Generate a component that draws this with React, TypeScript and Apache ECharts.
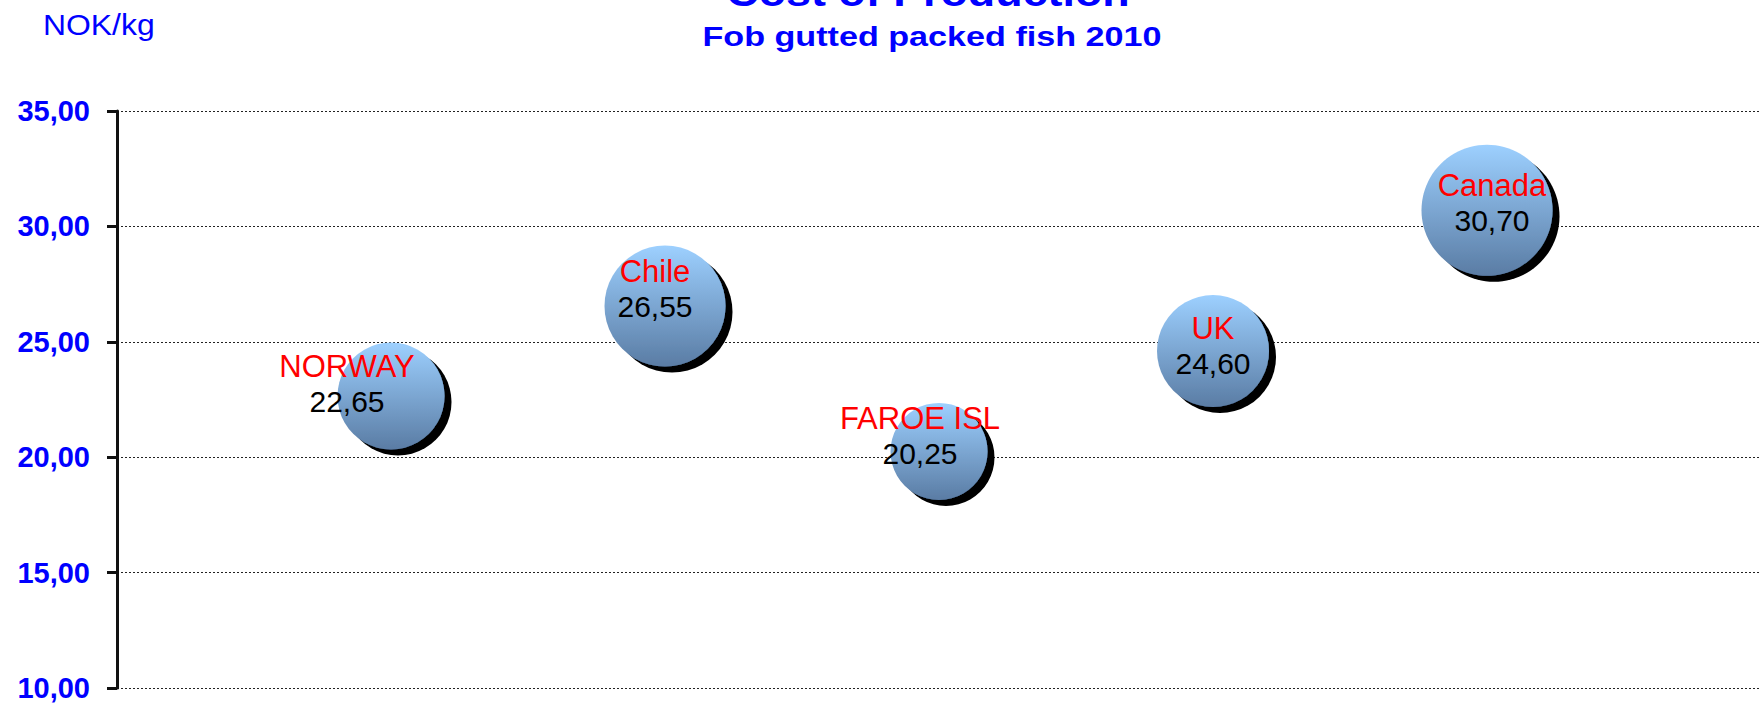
import React, { useEffect, useRef } from "react";
import * as echarts from "echarts";

// ---- data ----
const categories: string[] = ["NORWAY", "Chile", "FAROE ISL", "UK", "Canada"];
const costs: number[] = [22.65, 26.55, 20.25, 24.6, 30.7];
const xPositions: number[] = [1, 2, 3, 4, 5];
const bubbleDiameters: number[] = [107, 121, 97, 112, 131];
const yMin = 10;
const yMax = 35;
const yStep = 5;

const titleText = "Cost of Production";
const subtitleText = "Fob gutted packed fish 2010";
const unitText = "NOK/kg";

// ---- layout (label nudges, px) ----
const labelNudges: number[][] = [
  [-44, 5],
  [-10, 0],
  [-19, 2],
  [0, 12],
  [5, 10],
];

const FONT = '"Liberation Sans", Arial, sans-serif';
const fmt = (v: number) => v.toFixed(2).replace(".", ",");

export default function App() {
  const ref = useRef<HTMLDivElement>(null);
  useEffect(() => {
    document.body.style.margin = "0";
    if (!ref.current) return;
    const chart = echarts.init(ref.current, undefined, { renderer: "svg" });
    const data = categories.map((name, i) => ({
      name,
      value: [xPositions[i], costs[i]],
      label: {
        offset: [labelNudges[i][0], labelNudges[i][1] - 17.5],
      },
    }));
    chart.setOption({
      animation: false,
      backgroundColor: "#ffffff",
      grid: { left: 117, top: 111, right: 0, bottom: 16, containLabel: false },
      xAxis: { type: "value", min: 0, max: 6, show: false },
      yAxis: {
        type: "value",
        min: yMin,
        max: yMax,
        interval: yStep,
        axisLine: { show: true, lineStyle: { color: "#111", width: 3 } },
        axisTick: { show: true, length: 10, lineStyle: { color: "#111", width: 3 } },
        axisLabel: {
          margin: 27,
          color: "#0000ff",
          fontWeight: "bold",
          fontSize: 29,
          fontFamily: FONT,
          formatter: (v: number) => fmt(v),
        },
        splitLine: { show: true, lineStyle: { color: "#222", width: 1.2, type: [2, 2] } },
      },
      graphic: [
        {
          type: "text",
          x: 928,
          y: 12,
          scaleX: 1.15,
          style: {
            text: titleText,
            align: "center",
            verticalAlign: "bottom",
            fill: "#0000ff",
            font: `bold 39px ${FONT}`,
          },
        },
        {
          type: "text",
          x: 932,
          y: 37,
          scaleX: 1.22,
          style: {
            text: subtitleText,
            align: "center",
            verticalAlign: "middle",
            fill: "#0000ff",
            font: `bold 28px ${FONT}`,
          },
        },
        {
          type: "text",
          x: 43,
          y: 25,
          scaleX: 1.1,
          style: {
            text: unitText,
            align: "left",
            verticalAlign: "middle",
            fill: "#0000ff",
            font: `29px ${FONT}`,
          },
        },
      ],
      series: [
        {
          type: "scatter",
          data,
          symbol: "circle",
          symbolSize: (_v: any, p: any) => bubbleDiameters[p.dataIndex],
          itemStyle: {
            color: {
              type: "linear",
              x: 0,
              y: 0,
              x2: 0,
              y2: 1,
              colorStops: [
                { offset: 0, color: "#9dd0ff" },
                { offset: 1, color: "#5a7ca4" },
              ],
            },
            opacity: 1,
            shadowColor: "rgba(0,0,0,1)",
            shadowBlur: 1,
            shadowOffsetX: 7,
            shadowOffsetY: 6,
          },
          label: {
            show: true,
            position: "inside",
            formatter: (p: any) => `{n|${p.name}}\n{v|${fmt(p.value[1])}}`,
            rich: {
              n: { color: "#ff0000", fontSize: 31, fontFamily: FONT, lineHeight: 35 },
              v: { color: "#000000", fontSize: 30, fontFamily: FONT, lineHeight: 35 },
            },
          },
          emphasis: { disabled: true },
        },
      ],
    });
    return () => chart.dispose();
  }, []);
  return <div ref={ref} style={{ width: 1761, height: 704 }} />;
}
